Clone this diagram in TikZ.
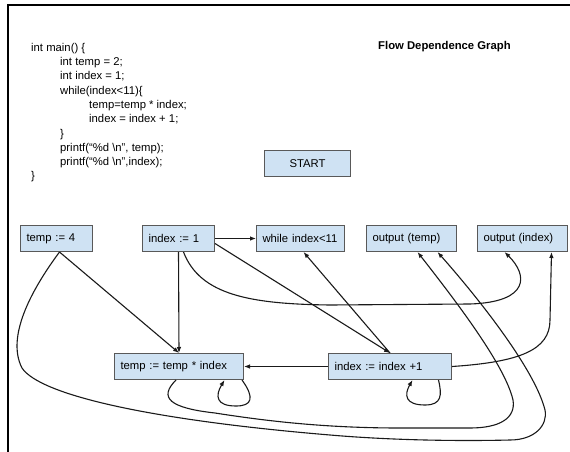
\documentclass[tikz,border=0pt]{standalone}
\usepackage{fontspec}
\setmainfont{Liberation Sans}
\usetikzlibrary{arrows.meta,calc}
\definecolor{boxfill}{HTML}{CFE2F3}
\definecolor{boxdraw}{HTML}{595959}
\definecolor{edgecol}{HTML}{1A1A1A}
\begin{document}
\begin{tikzpicture}[x=1pt,y=-1pt,
  font=\fontsize{11.3}{14}\selectfont,
  box/.style={draw=boxdraw, fill=boxfill, line width=1pt, minimum height=26pt,
    inner xsep=6pt, inner ysep=0pt, anchor=north west},
  lbox/.style={box, align=left, text width=#1},
  codeline/.style={anchor=base west, inner sep=0pt},
  edge/.style={draw=edgecol, line width=1.1pt, -{Latex[length=6pt,width=4.6pt]}}]
\fill[white] (0,0) rectangle (570,452);
\useasboundingbox (0,0) rectangle (570,452);
\draw[line width=2pt] (8,453) -- (8,5) -- (571,5);

% code
\node[codeline] (c1) at (31,52) {int main() \{};
\node[codeline] (c2) at (60,66) {int temp = 2;};
\node[codeline] (c3) at (60,80) {int index = 1;};
\node[codeline] (c4) at (60,94) {while(index<11)\{};
\node[codeline] (c5) at (89,108) {temp=temp * index;};
\node[codeline] (c6) at (89,122) {index = index + 1;};
\node[codeline] (c7) at (60,137) {\}};
\node[codeline] (c8) at (60,151) {printf(“\%d \textbackslash n”, temp);};
\node[codeline] (c9) at (60,165) {printf(“\%d \textbackslash n”,index);};
\node[codeline] (c10) at (31,179) {\}};

\node[codeline, font=\fontsize{11.3}{14}\selectfont\bfseries] (title) at (378,49) {Flow Dependence Graph};

\node[box, minimum width=86pt, align=center] (start) at (264,150) {START};

\node[lbox=60pt] (t4) at (20,225) {temp := 4};
\node[lbox=60pt] (i1) at (142,225) {index := 1};
\node[lbox=76pt] (wh) at (256,225) {while index<11};
\node[lbox=78pt] (ot) at (366,225) {output (temp)};
\node[lbox=78pt] (oi) at (477,225) {output (index)};
\node[lbox=117pt] (tm) at (114,353) {temp := temp * index};
\node[lbox=111pt] (ii) at (328,353) {index := index +1};

% connectors
\draw[edge] (i1.east) -- (wh.west);
\draw[edge] ($(t4.south)+(3,0)$) -- (tm.north);
\draw[edge] (i1.south) -- (tm.north);
\draw[edge] ($(i1.east)+(0,5)$) -- (ii.north);
\draw[edge] (ii.north) -- ($(wh.south)+(3,0)$);
\draw[edge] ($(i1.south)+(5,0)$) .. controls (200,295) and (250,304) .. (330,305)
   -- (470,304) .. controls (530,302) and (528,275) .. ($(oi.south)+(-18,0)$);
\draw[edge] (ii.east) .. controls (520,362) and (550,350) .. (550,320)
   -- ($(oi.south)+(29,0)$);
\draw[edge] (ii.west) -- (tm.east);
\draw[edge] ($(tm.south east)+(-2,0)$) .. controls (255,398) and (252,406) .. (236,406)
   .. controls (216,406) and (215,396) .. ($(tm.south)+(45.5,0)$);
\draw[edge] ($(ii.south)+(48.5,0)$) .. controls (442,395) and (442,405) .. (425,405)
   .. controls (405,405) and (404,395) .. ($(ii.south)+(22.5,0)$);
\draw[edge] ($(tm.south)+(-3,0)$) .. controls (158,398) and (170,408) .. (215,413)
   .. controls (260,420) and (320,428) .. (400,428) -- (470,428)
   .. controls (500,428) and (516,418) .. (513,400)
   .. controls (505,365) and (455,300) .. ($(ot.south)+(6,0)$);
\draw[edge] ($(t4.south)+(3,0)$) .. controls (35,285) and (5,335) .. (22,368)
   .. controls (40,395) and (150,420) .. (330,435)
   .. controls (400,441) and (470,441) .. (510,440)
   .. controls (535,440) and (548,425) .. (545,410)
   .. controls (535,370) and (480,300) .. ($(ot.south)+(26,0)$);
\end{tikzpicture}
\end{document}
